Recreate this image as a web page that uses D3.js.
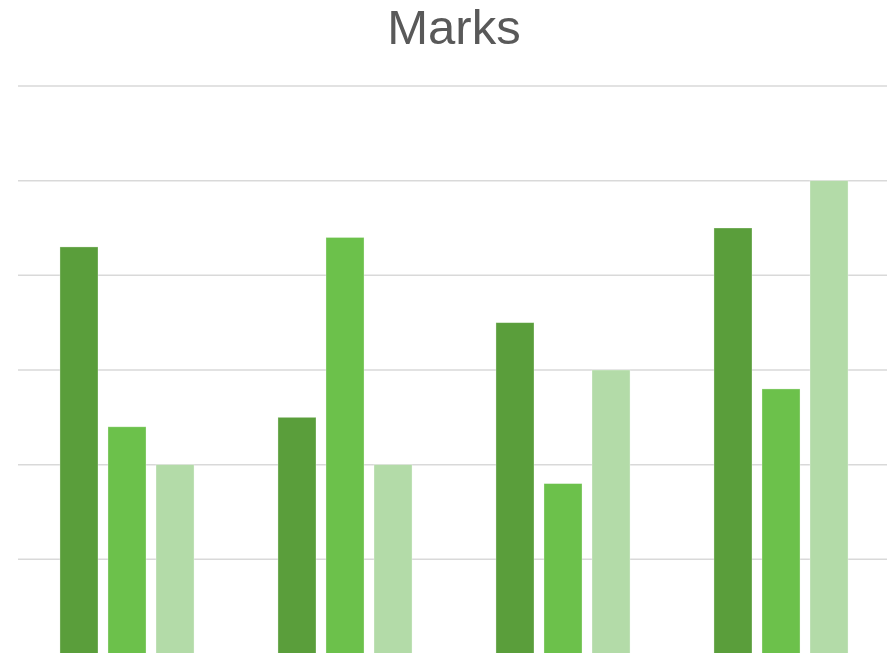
<!DOCTYPE html>
<meta charset="utf-8">
<style>
    body { margin: 0; background: #fff; }
</style>
<body>
    <svg width="887" height="653"></svg>
</body>
<script src="https://cdnjs.cloudflare.com/ajax/libs/d3/7.8.5/d3.min.js"></script>
<script>

    // data (marks out of 60)
    var students = ["Student 1", "Student 2", "Student 3", "Student 4"];
    var subjects = ["Test 1", "Test 2", "Test 3"];
    var test1 = [43, 25, 35, 45];
    var test2 = [24, 44, 18, 28];
    var test3 = [20, 20, 30, 50];
    var yTicks = [0, 10, 20, 30, 40, 50, 60];
    var colors = ["#5a9e3b", "#6cc14b", "#b3dba8"];

    var svg = d3.select("svg"),
        width = +svg.attr("width"),
        height = +svg.attr("height");

    var rows = students.map(function(s, i) {
        return { name: s, values: [test1[i], test2[i], test3[i]] };
    });

    // scales - plot runs a bit past the right edge like the original
    var x0 = d3.scaleBand()
        .domain(students)
        .range([18, 890])
        .paddingInner(0.385)
        .paddingOuter(0.1925);

    var x1 = d3.scaleBand()
        .domain(subjects)
        .range([0, x0.bandwidth()])
        .paddingInner(0.208);

    var y = d3.scaleLinear()
        .domain([0, 60])
        .range([654, 86]);

    var color = d3.scaleOrdinal()
        .domain(subjects)
        .range(colors);

    // gridlines
    svg.append("g")
        .attr("class", "grid")
        .selectAll("line")
        .data(yTicks.filter(function(t) { return t > 0; }))
        .enter()
        .append("line")
        .attr("x1", 18)
        .attr("x2", width)
        .attr("y1", function(d) { return y(d); })
        .attr("y2", function(d) { return y(d); })
        .style("stroke", "#d9d9d9")
        .style("stroke-width", 1.5);

    // bars
    var groups = svg.append("g")
        .attr("class", "bars")
        .selectAll("g")
        .data(rows)
        .enter()
        .append("g")
        .attr("transform", function(d) { return "translate(" + x0(d.name) + ",0)"; });

    groups.selectAll("rect")
        .data(function(d) {
            return d.values.map(function(v, i) { return { key: subjects[i], value: v }; });
        })
        .enter()
        .append("rect")
        .attr("x", function(d) { return x1(d.key); })
        .attr("y", function(d) { return y(d.value); })
        .attr("width", x1.bandwidth())
        .attr("height", function(d) { return y(0) - y(d.value); })
        .attr("fill", function(d) { return color(d.key); })
        .style("stroke", "#ffffff")
        .style("stroke-opacity", 0.4)
        .style("stroke-width", 0.75);

    // title
    svg.append("text")
        .attr("x", 454)
        .attr("y", 44)
        .attr("text-anchor", "middle")
        .attr("font-family", "'Liberation Sans', Arial, sans-serif")
        .attr("font-size", 49)
        .style("fill", "#595959")
        .text("Marks");

</script>
